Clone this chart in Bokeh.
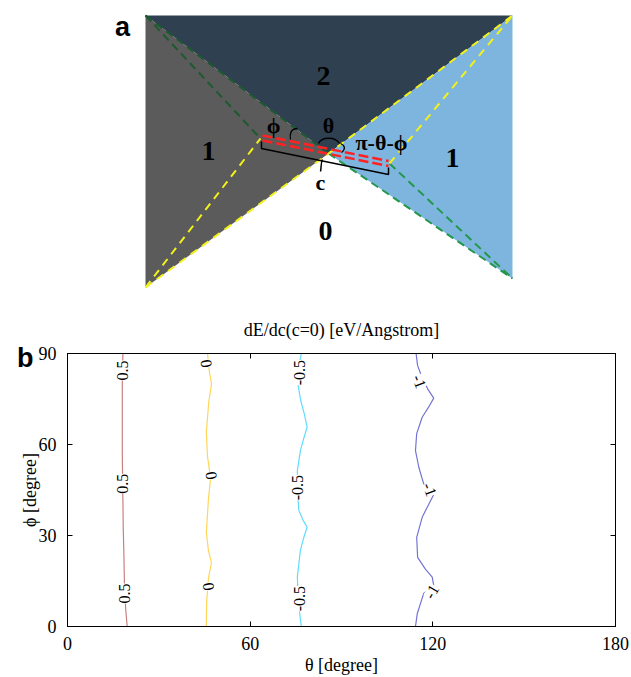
from bokeh.plotting import figure
from bokeh.layouts import column
from bokeh.models import Range1d, LinearAxis, LabelSet, ColumnDataSource, CustomJSTickFormatter
from bokeh.core.properties import value
from bokeh.embed import file_html
from bokeh.resources import INLINE

# ---------------- panel b data: contour lines of dE/dc(c=0) ----------------
red_phi = [90, 80, 70, 58, 48, 41.5, 33, 25, 14, 6, 0]
red_theta = [18.2, 18.0, 18.0, 18.0, 18.1, 18.2, 18.3, 18.5, 18.7, 19.1, 19.6]

yellow_phi = [90, 84, 80, 74, 64, 56, 49, 42, 31, 25, 21, 16, 8, 0]
yellow_theta = [46.0, 46.6, 47.3, 46.4, 45.6, 46.0, 47.0, 46.3, 45.6, 46.3, 47.3, 46.3, 45.7, 45.6]

cyan_phi = [90, 86, 81, 74.5, 70, 65.7, 62, 58, 51.4, 45, 38.2, 35, 32.7, 29, 25.1, 16.3, 8, 0]
cyan_theta = [76.8, 76.0, 75.5, 76.6, 77.8, 78.7, 77.6, 76.5, 75.5, 75.5, 76.0, 77.4, 78.7, 77.5, 76.5, 75.5, 75.8, 76.8]

blue_phi = [90, 86, 82, 78, 75.3, 72.3, 69, 63.6, 58, 52.5, 47, 43.5, 40, 36, 29.4, 22.8, 19, 16.3, 13.5, 10.9, 4.3, 0]
blue_theta = [114.5, 115.0, 116.5, 118.5, 120.3, 118.6, 116.5, 114.7, 114.3, 115.4, 117.0, 120.3, 118.5, 116.5, 114.7, 115.0, 117.5, 119.8, 120.3, 117.0, 114.9, 114.3]

contour_colors = ["#c98080", "#ffd65a", "#5fdcff", "#7474d4"]

# contour labels
label_theta = [18.2, 18.1, 18.6, 45.6, 47.3, 46.4, 76.3, 75.6, 76.3, 115.6, 119.0, 119.6]
label_phi = [84.4, 47.1, 10.9, 86.7, 49.8, 13.2, 83.7, 45.8, 9.2, 80.8, 45.2, 11.5]
label_text = ["0.5", "0.5", "0.5", "0", "0", "0", "-0.5", "-0.5", "-0.5", "-1", "-1", "-1"]
label_angle = [1.5708, 1.5708, 1.5708, -1.45, -1.45, -1.45, 1.5708, 1.5708, 1.5708, -1.2, -1.2, 1.05]

x_ticks = [0, 60, 120, 180]
y_ticks = [0, 30, 60, 90]
panel_b_letter_phi = 88.4

# ---------------- panel a: schematic geometry (page pixel frame) ----------------
TL, TR, BL, BR_BLUE, C = (145, 15), (512, 15), (145, 287), (512, 278), (328, 153)
P1, P2 = (260, 138), (389, 163)

region_colors = {"top": "#2f4151", "left": "#5b5b5b", "right": "#7db5de"}

FRAME_LEFT, FRAME_RIGHT_PAD = 67, 16
PANEL_A_HEIGHT = 302

pa = figure(frame_width=548, frame_height=PANEL_A_HEIGHT, x_range=Range1d(67, 615),
            y_range=Range1d(PANEL_A_HEIGHT, 0),
            output_backend="svg", toolbar_location=None,
            min_border_left=FRAME_LEFT, min_border_right=FRAME_RIGHT_PAD, min_border_top=0, min_border_bottom=0)
pa.axis.visible = False
pa.grid.visible = False
pa.outline_line_color = None
pa.background_fill_color = "white"

pa.patch([TL[0], TR[0], C[0]], [TL[1], TR[1], C[1]], color=region_colors["top"], line_color=None)
pa.patch([TL[0], C[0], BL[0]], [TL[1], C[1], BL[1]], color=region_colors["left"], line_color=None)
pa.patch([TR[0], C[0], BR_BLUE[0]], [TR[1], C[1], BR_BLUE[1]], color=region_colors["right"], line_color=None)

# dashed boundary lines
pa.line([TL[0], C[0]], [TL[1], C[1]], line_color="#1d5a2f", line_width=2, line_dash="8 5")
pa.line([TL[0], P1[0]], [TL[1], P1[1]], line_color="#1d5a2f", line_width=2, line_dash="8 5")
pa.line([C[0], BR_BLUE[0]], [C[1], BR_BLUE[1]], line_color="#23974c", line_width=2, line_dash="8 5")
pa.line([P2[0], BR_BLUE[0]], [P2[1], BR_BLUE[1]], line_color="#23974c", line_width=2, line_dash="8 5")
pa.line([BL[0], C[0], TR[0]], [BL[1], C[1], TR[1]], line_color="#f2f21a", line_width=2, line_dash="8 6")
pa.line([BL[0], P1[0]], [BL[1], P1[1]], line_color="#f2f21a", line_width=2, line_dash="8 6")
pa.line([P2[0], TR[0]], [P2[1], TR[1]], line_color="#f2f21a", line_width=2, line_dash="8 6")

# red double dashed crack
pa.line([P1[0] + 2, P2[0] - 1], [P1[1] - 3, P2[1] - 2.5], line_color="#ff2222", line_width=2.5, line_dash="10 4")
pa.line([P1[0] + 2, P2[0] - 1], [P1[1] + 2, P2[1] + 2.5], line_color="#ff2222", line_width=2.5, line_dash="10 4")

# bracket for c
pa.line([261, 261, 388, 388], [141, 148, 174, 167], line_color="black", line_width=1.5)
pa.bezier(x0=[322], y0=[159], x1=[320], y1=[171], cx0=[320], cy0=[163], cx1=[321], cy1=[167],
          line_color="black", line_width=1.5)

# angle arcs
pa.bezier(x0=[297, 318, 340], y0=[128, 143, 143], x1=[290, 339, 341], y1=[139, 143, 152],
          cx0=[290, 321, 345], cy0=[128, 136, 145], cx1=[289, 335, 345], cy1=[134, 136, 149],
          line_color="black", line_width=1.3)

serif = value("Liberation Serif")
pa.text(x=[323, 208, 452, 325], y=[75, 150, 157, 230], text=["2", "1", "1", "0"],
        text_font=serif, text_font_style="bold", text_font_size="28px",
        text_align="center", text_baseline="middle", text_color="black")
pa.text(x=[273, 328, 381, 320], y=[125, 125, 142, 182], text=["ϕ", "θ", "π-θ-ϕ", "c"],
        text_font=serif, text_font_style="bold", text_font_size="22px",
        text_align="center", text_baseline="middle", text_color="black")
pa.text(x=[122], y=[26], text=["a"], text_font=value("Liberation Sans"), text_font_style="bold",
        text_font_size="27px", text_align="center", text_baseline="middle", text_color="black")

# ---------------- panel b figure ----------------
pb = figure(frame_width=548, frame_height=273, x_range=Range1d(0, 180), y_range=Range1d(0, 90),
            output_backend="svg", toolbar_location=None,
            min_border_left=FRAME_LEFT, min_border_right=FRAME_RIGHT_PAD,
            min_border_top=353 - PANEL_A_HEIGHT, min_border_bottom=43)
pb.grid.visible = False
pb.outline_line_color = "black"
pb.outline_line_width = 1

pb.title.text = "dE/dc(c=0) [eV/Angstrom]"
pb.title.align = "center"
pb.title.text_font = "Liberation Serif"
pb.title.text_font_size = "18px"
pb.title.text_font_style = "normal"
pb.title.text_color = "black"
pb.title.standoff = 28

for ax in (pb.xaxis[0], pb.yaxis[0]):
    ax.major_tick_in = 5
    ax.major_tick_out = 0
    ax.minor_tick_in = 0
    ax.minor_tick_out = 0
    ax.axis_line_color = "black"
    ax.major_label_text_font = "Liberation Serif"
    ax.major_label_text_font_size = "18px"
    ax.major_label_text_color = "black"
    ax.axis_label_text_font = "Liberation Serif"
    ax.axis_label_text_font_size = "18px"
    ax.axis_label_text_font_style = "normal"
    ax.axis_label_text_color = "black"
pb.xaxis[0].ticker = x_ticks
pb.yaxis[0].ticker = y_ticks
pb.xaxis[0].axis_label = "θ [degree]"
pb.yaxis[0].axis_label = "ϕ [degree]"
pb.xaxis[0].major_label_standoff = 10
pb.xaxis[0].axis_label_standoff = 2
pb.yaxis[0].major_label_standoff = 11
pb.yaxis[0].axis_label_standoff = -4

blank = CustomJSTickFormatter(code="return '';")
for loc, ticks in (("above", x_ticks), ("right", y_ticks)):
    ax = LinearAxis(ticker=ticks, formatter=blank, major_tick_in=5, major_tick_out=0,
                    minor_tick_in=0, minor_tick_out=0, axis_line_color="black", major_label_standoff=0)
    pb.add_layout(ax, loc)

# panel letter "b": an outer left axis carrying a single tick label
letter_axis = LinearAxis(ticker=[panel_b_letter_phi], major_label_overrides={panel_b_letter_phi: "b"},
                         major_tick_in=0, major_tick_out=0, minor_tick_in=0, minor_tick_out=0,
                         axis_line_color=None, major_label_standoff=-17,
                         major_label_text_font="Liberation Sans", major_label_text_font_style="bold",
                         major_label_text_font_size="27px", major_label_text_color="black")
pb.add_layout(letter_axis, "left")

for th, ph, col in ((red_theta, red_phi, contour_colors[0]), (yellow_theta, yellow_phi, contour_colors[1]),
                    (cyan_theta, cyan_phi, contour_colors[2]), (blue_theta, blue_phi, contour_colors[3])):
    pb.line(th, ph, line_color=col, line_width=1.2)

lsrc = ColumnDataSource(dict(x=label_theta, y=label_phi, t=label_text, a=label_angle))
pb.add_layout(LabelSet(x="x", y="y", text="t", angle="a", source=lsrc,
                       text_font=value("Liberation Serif"), text_font_size="16px", text_color="black",
                       text_align="center", text_baseline="middle",
                       background_fill_color="white"))

layout = column(pa, pb, spacing=0)
open("out.html", "w").write(file_html(layout, INLINE))
